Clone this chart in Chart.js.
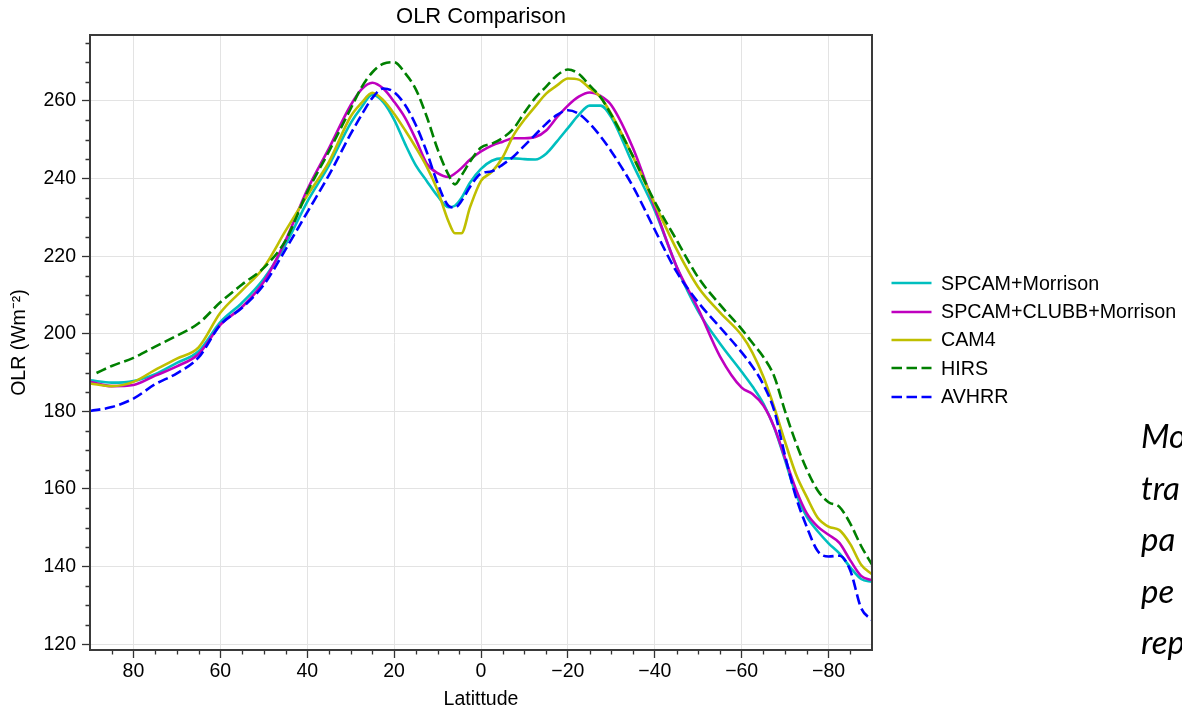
<!DOCTYPE html>
<html>
<head>
<meta charset="utf-8">
<script src="https://cdn.jsdelivr.net/npm/chart.js@4.4.1/dist/chart.umd.min.js"></script>
<style>
html,body{margin:0;padding:0;background:#fff;overflow:hidden;width:1182px;height:709px;}
#wrap{position:absolute;left:0;top:0;width:1182px;height:709px;}
#legend{position:absolute;left:891px;top:269px;font-family:"Liberation Sans",Arial,sans-serif;font-size:19.7px;color:#000;}
#legend .item{height:28.35px;display:flex;align-items:center;white-space:nowrap;}
#legend svg{width:41px;height:8px;margin-right:9px;flex:none;}
#side{position:absolute;left:1141px;top:410px;font-family:Lato,"Open Sans",sans-serif;font-style:italic;font-size:33px;line-height:51.5px;white-space:nowrap;color:#000;}
</style>
</head>
<body>
<div id="wrap"><canvas id="c"></canvas></div>
<div id="legend"></div>
<div id="side">Mo<br>tra<br>pa<br>pe<br>rep</div>
<script>
// ---------- data ----------
const lat = [90, 85, 80, 75, 70, 65, 60, 55, 50, 45, 40, 35, 30, 27.5, 25, 22.5, 20, 17.5, 15, 12.5, 10, 7.5, 6, 4.5, 2.5, 0,
  -2.5, -5, -7.5, -10, -12.5, -15, -17.5, -20, -22.5, -25, -27.5, -30, -35, -40, -45, -50, -55, -60, -62.5, -65, -67.5,
  -70, -72.5, -75, -77.5, -80, -82.5, -85, -87.5, -90];
const latHirs = [88.5, 85, 80, 75, 70, 65, 60, 55, 50, 45, 40, 35, 30, 27.5, 25, 22.5, 20, 17.5, 15, 12.5, 10, 7.5, 6, 4.5, 2.5, 0,
  -2.5, -5, -7.5, -10, -12.5, -15, -17.5, -20, -22.5, -25, -27.5, -30, -35, -40, -45, -50, -55, -60, -62.5, -65, -67.5,
  -70, -72.5, -75, -77.5, -80, -82.5, -85, -87.5, -90];

const spcamMorrison = [188, 187.4, 187.8, 189.6, 192.5, 195.5, 203, 208, 214.2, 223, 234, 243.4, 254.3, 258.4, 261.6, 259.7,
  255.2, 249, 243.4, 239.4, 235.5, 232.6, 233.0, 235, 239, 242.5, 244.6, 245.2, 245.2, 245, 244.9, 246.4, 249.6, 253, 256.4,
  258.8, 258.8, 255.8, 243.6, 231.8, 217.3, 205.8, 197.5, 190.2, 186.4, 182, 175.8, 167.4, 158.6, 152.8, 149.1, 146, 143.4,
  139.8, 136.8, 136.1];
const spcamClubb = [187.6, 186.5, 186.8, 189.2, 191.6, 194.8, 202.3, 206.9, 213.4, 224, 237.1, 247.8, 258.9, 263, 264.7, 263.2,
  259.8, 255.7, 250.1, 243.9, 241.4, 240.4, 241.3, 242.7, 244.9, 247, 248.5, 249.5, 250.4, 250.4, 250.7, 252.4, 255.8, 258.8,
  261.1, 262.2, 261.3, 258.9, 247.8, 232.5, 217.4, 206.4, 194.2, 186.1, 184.5, 181.5, 175.9, 167.9, 159.9, 153.7, 150.3, 148.2,
  146.1, 141.6, 137.6, 136.5];
const cam4 = [187.2, 186.5, 187.6, 190.7, 193.6, 196.5, 205.4, 211.2, 217.1, 226.5, 235.6, 244.3, 256, 259.5, 262.1, 260.2,
  256.7, 252.5, 248, 243.1, 237, 229, 225.9, 225.9, 232.7, 239.4, 241.7, 245.5, 251.2, 255.2, 258.6, 261.9, 264, 265.8, 265.5,
  263.3, 261, 256.6, 245.6, 233.5, 221.8, 212, 205.5, 199.6, 195.1, 188.9, 181, 172.1, 163.8, 157.9, 152.6, 150.3, 149.4,
  145.8, 140.5, 138];
const hirs = [189.9, 191.7, 193.8, 196.7, 199.5, 202.7, 208.1, 212.7, 217, 224, 236.5, 247, 258, 263.5, 267.4, 269.6, 270,
  267.2, 263, 256, 247.6, 241, 238.5, 240.8, 244.4, 248, 249, 250.5, 252.9, 257, 260.8, 263.7, 266.6, 268.1, 267, 264, 261,
  256.4, 245.7, 234, 224.2, 214.5, 207.5, 201.2, 197.6, 194, 189, 180, 171.9, 165, 159.6, 156.6, 155.4, 151.1, 145.3, 140.5];
const avhrr = [180.1, 181.1, 183.3, 187, 189.8, 193.9, 202.3, 206.7, 212.6, 221.7, 231.3, 240.9, 251.5, 256.4, 260.8, 263.2,
  262.3, 259, 253.8, 246.9, 238.8, 233, 232.5, 234.2, 237.9, 241.3, 241.9, 243.6, 245.7, 248.5, 251.3, 254.1, 256.4, 257.6,
  256.7, 254.2, 250.9, 247, 237.9, 226.8, 216, 208.1, 201.7, 195.2, 191.5, 186.9, 180.2, 168.5, 157.9, 150.2, 144, 142.6,
  142.8, 139, 129.3, 126.2];

const seriesNames = ['SPCAM+Morrison', 'SPCAM+CLUBB+Morrison', 'CAM4', 'HIRS', 'AVHRR'];
const xTicks = [80, 60, 40, 20, 0, -20, -40, -60, -80];
const yTicks = [120, 140, 160, 180, 200, 220, 240, 260];
const minorStep = 5;

// ---------- styles ----------
const colors = ['#00bfbf', '#bf00bf', '#bfbf00', '#008000', '#0000ff'];
const dashed = [false, false, false, true, true];
const DASH = [10.5, 4.5];
const FONT = '"Liberation Sans", Arial, sans-serif';

function pts(xs, ys) { return xs.map((x, i) => ({x: x, y: ys[i]})); }
const seriesData = [pts(lat, spcamMorrison), pts(lat, spcamClubb), pts(lat, cam4), pts(latHirs, hirs), pts(lat, avhrr)];

const fmt = v => (v < 0 ? '\u2212' + Math.abs(v) : String(v));

const frameTicks = {
  id: 'frameTicks',
  afterDraw(chart) {
    const {ctx, chartArea: a, scales: {x, y}} = chart;
    ctx.save();
    ctx.strokeStyle = '#333';
    ctx.lineWidth = 1.3;
    ctx.beginPath();
    for (let v = x.min + minorStep; v < x.max; v += minorStep) {
      if (xTicks.includes(v)) continue;
      const px = Math.round(x.getPixelForValue(v)) + 0.5;
      ctx.moveTo(px, a.bottom); ctx.lineTo(px, a.bottom + 4.5);
    }
    for (let v = yTicks[0]; v < y.max; v += minorStep) {
      if (yTicks.includes(v)) continue;
      const py = Math.round(y.getPixelForValue(v)) + 0.5;
      ctx.moveTo(a.left, py); ctx.lineTo(a.left - 4.5, py);
    }
    ctx.stroke();
    ctx.lineWidth = 2;
    ctx.strokeStyle = '#3a3a3a';
    ctx.strokeRect(a.left, a.top, a.right - a.left, a.bottom - a.top);
    ctx.restore();
  }
};

Chart.defaults.font.family = FONT;
Chart.defaults.color = '#000';

new Chart(document.getElementById('c'), {
  type: 'line',
  data: {
    datasets: seriesNames.map((name, i) => ({
      label: name,
      data: seriesData[i],
      borderColor: colors[i],
      backgroundColor: colors[i],
      borderWidth: 2.6,
      borderDash: dashed[i] ? DASH : [],
      pointRadius: 0,
      fill: false,
      cubicInterpolationMode: 'monotone',
      order: seriesNames.length - i
    }))
  },
  options: {
    responsive: true,
    maintainAspectRatio: false,
    animation: false,
    devicePixelRatio: 1,
    layout: {padding: {left: 0, right: 310, top: 0, bottom: 0}},
    plugins: {
      legend: {display: false},
      tooltip: {enabled: false},
      title: {
        display: true, text: 'OLR Comparison', fullSize: false, color: '#000',
        font: {family: FONT, size: 22, weight: 'normal', lineHeight: 1.2},
        padding: {top: 4, bottom: 4.6}
      }
    },
    scales: {
      x: {
        type: 'linear', reverse: true, min: -90, max: 90,
        afterBuildTicks: s => { s.ticks = xTicks.map(v => ({value: v})); },
        afterFit: s => { s.height = 59; },
        ticks: {callback: v => fmt(v), color: '#000', font: {size: 19.5}, padding: 2, maxRotation: 0, autoSkip: false},
        grid: {color: '#e3e3e3', lineWidth: 1, tickColor: '#333', tickLength: 8, tickWidth: 1.3},
        border: {display: false},
        title: {display: true, text: 'Latittude', color: '#000', font: {size: 19.5, lineHeight: 1}, padding: {top: 0, bottom: 0}}
      },
      y: {
        type: 'linear', min: 118.5, max: 277,
        afterBuildTicks: s => { s.ticks = yTicks.map(v => ({value: v})); },
        afterFit: s => { s.width = 90; },
        ticks: {callback: v => fmt(v), color: '#000', font: {size: 19.5}, padding: 6, autoSkip: false},
        grid: {color: '#e3e3e3', lineWidth: 1, tickColor: '#333', tickLength: 8, tickWidth: 1.3},
        border: {display: false},
        title: {display: true, text: 'OLR (Wm\u207B\u00B2)', color: '#000', font: {size: 19.5, lineHeight: 1.2}, padding: {top: 8, bottom: 0}}
      }
    }
  },
  plugins: [frameTicks]
});

// ---------- legend (HTML) ----------
const legend = document.getElementById('legend');
seriesNames.forEach((name, i) => {
  const item = document.createElement('div');
  item.className = 'item';
  const dash = dashed[i] ? ' stroke-dasharray="' + DASH.join(' ') + '"' : '';
  item.innerHTML = '<svg viewBox="0 0 41 8"><line x1="0.5" y1="4" x2="40.5" y2="4" stroke="' + colors[i] +
    '" stroke-width="2.6"' + dash + '/></svg><span>' + name + '</span>';
  legend.appendChild(item);
});
</script>
</body>
</html>
